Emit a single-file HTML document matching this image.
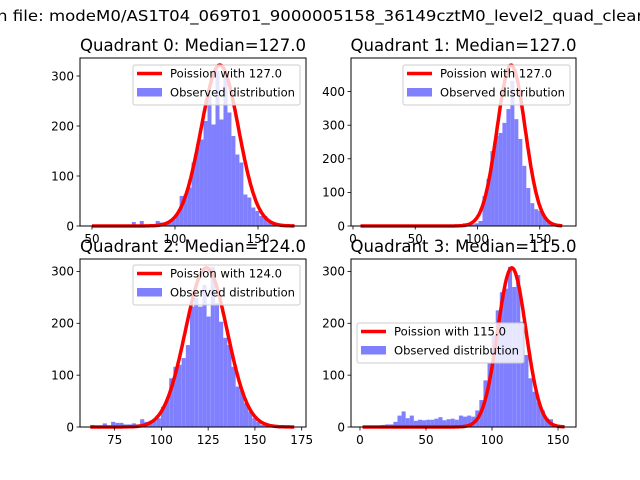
<!DOCTYPE html>
<html><head><meta charset="utf-8"><style>
html,body{margin:0;padding:0;background:#fff;}
svg{display:block;font-family:"DejaVu Sans","Liberation Sans",sans-serif;}
</style></head><body>
<svg id="fig" width="640" height="480" viewBox="0 0 640 480">
<text x="-3" y="21" font-size="15.5" textLength="650" lengthAdjust="spacingAndGlyphs">n file: modeM0/AS1T04_069T01_9000005158_36149cztM0_level2_quad_clean</text>
</svg>
<script>
// Quadrant 0
const q0Start = 50, q0Width = 2.4;
const q0Counts = [0,0,0,0,0,0,0,0,0,0,8,3,10,3,3,4,10,7,5,8,13,25,60,63,77,127,157,173,210,263,203,310,213,310,227,180,143,127,63,57,37,30,20,20,7,3,0,0,0,0];
const q0Lambda = 127, q0Peak = 322, q0CurveRange = [50,172];
const q0XTicks = [50,100,150], q0YTicks = [0,100,200,300];
// Quadrant 1
const q1Start = 8, q1Width = 3.2;
const q1Counts = [0,0,0,0,0,0,0,0,0,0,0,0,0,0,0,1,1,1,1,2,3,3,3,5,5,8,5,5,8,15,89,140,223,268,277,307,348,432,318,259,179,113,68,50,45,30,15,5,2,0];
const q1Lambda = 127, q1Peak = 479, q1CurveRange = [6,168];
const q1XTicks = [0,50,100,150], q1YTicks = [0,100,200,300,400];
// Quadrant 2
const q2Start = 62, q2Width = 2.22;
const q2Counts = [4,2,3,7,3,10,8,8,5,5,7,5,15,10,12,14,17,39,52,94,116,120,133,158,232,249,232,274,213,309,239,203,172,158,116,78,71,46,30,17,10,4,2,1,0,0,0,0,0,0];
const q2Lambda = 124, q2Peak = 307, q2CurveRange = [62,171];
const q2XTicks = [75,100,125,150,175], q2YTicks = [0,100,200,300];
// Quadrant 3
const q3Start = 0.5, q3Width = 3.1;
const q3Counts = [1,1,2,2,3,4,5,5,10,22,30,17,22,12,14,13,14,14,16,19,13,15,16,14,22,20,22,20,32,52,90,123,177,225,260,267,309,270,293,203,139,94,68,48,32,17,15,6,2,0];
const q3Lambda = 115, q3Peak = 307, q3CurveRange = [2,155];
const q3XTicks = [0,50,100,150], q3YTicks = [0,100,200,300];

const NS = "http://www.w3.org/2000/svg";
const fig = document.getElementById('fig');
function mk(tag, attrs, parent){const e=document.createElementNS(NS,tag);for(const k in attrs)e.setAttribute(k,attrs[k]);(parent||fig).appendChild(e);return e;}

function panel(p){
  const g = mk('g',{});
  
  
  const X = v => p.x0 + (v - p.xmin)/(p.xmax - p.xmin)*(p.x1 - p.x0);
  const Y = v => p.y1 - (v - 0)/(p.ymax)*(p.y1 - p.y0);
  p.counts.forEach((c,i)=>{
    if(c<=0) return;
    const a = p.start + i*p.width, b = a + p.width;
    const r = mk('rect',{x:X(a),y:Y(c),width:X(b)-X(a),height:Y(0)-Y(c),fill:'#8080ff'},g);
    
    
  });
  let d='';
  for(let v=p.cr[0]; v<=p.cr[1]; v+=0.5){
    const y = p.peak*Math.exp(-(v-p.lambda)*(v-p.lambda)/(2*p.lambda));
    d += (d?'L':'M') + X(v).toFixed(1)+','+Y(y).toFixed(1);
  }
  const path = mk('path',{d:d,fill:'none',stroke:'#ff0000','stroke-width':3.5,'stroke-linejoin':'round'},g);
  
  
  const fr = mk('rect',{x:p.x0,y:p.y0,width:p.x1-p.x0,height:p.y1-p.y0,fill:'none',stroke:'#000','stroke-width':1},g);
  
  
  p.xt.forEach(t=>{
    const x = X(t);
    mk('line',{x1:x,x2:x,y1:p.y1,y2:p.y1+3.5,stroke:'#000','stroke-width':0.8},g);
    const tx = mk('text',{x:x,y:p.y1+17,'font-size':12,'text-anchor':'middle'},g);
    tx.textContent = t;
    
    
  });
  p.yt.forEach(t=>{
    const y = Y(t);
    mk('line',{x1:p.x0-3.5,x2:p.x0,y1:y,y2:y,stroke:'#000','stroke-width':0.8},g);
    const tx = mk('text',{x:p.x0-6,y:y+4.3,'font-size':12,'text-anchor':'end'},g);
    tx.textContent = t;
    
    
  });
  const ti = mk('text',{x:(p.x0+p.x1)/2+p.tdx,y:p.y0-7,'font-size':16.5,'text-anchor':'middle',textLength:226,lengthAdjust:'spacingAndGlyphs'},g);
  ti.textContent = 'Quadrant '+p.id+': Median='+p.lambda.toFixed(1);
  
  
  const lg = mk('g',{},g);
  
  
  const lx = p.lx, ly = p.ly;
  mk('rect',{x:lx,y:ly,width:167,height:40,rx:2,fill:'#fff','fill-opacity':0.8,stroke:'#ccc','stroke-width':1},lg);
  mk('line',{x1:lx+4,x2:lx+29,y1:ly+8.5,y2:ly+8.5,stroke:'#ff0000','stroke-width':3.5},lg);
  mk('rect',{x:lx+4,y:ly+23,width:25,height:8.5,fill:'#8080ff'},lg);
  const t1 = mk('text',{x:lx+37,y:ly+12.5,'font-size':11.5,textLength:112,lengthAdjust:'spacingAndGlyphs'},lg);
  t1.textContent = 'Poission with '+p.lambda.toFixed(1);
  
  
  const t2 = mk('text',{x:lx+37,y:ly+31.5,'font-size':11.5,textLength:125,lengthAdjust:'spacingAndGlyphs'},lg);
  t2.textContent = 'Observed distribution';
  
  
}

panel({id:0,x0:80,x1:306,y0:58,y1:226,xmin:42.8,xmax:178.9,ymax:336,start:q0Start,width:q0Width,counts:q0Counts,lambda:q0Lambda,peak:q0Peak,cr:q0CurveRange,xt:q0XTicks,yt:q0YTicks,lx:133,ly:65,tdx:0});
panel({id:1,x0:351,x1:576,y0:58,y1:226,xmin:-1.6,xmax:179.1,ymax:500,start:q1Start,width:q1Width,counts:q1Counts,lambda:q1Lambda,peak:q1Peak,cr:q1CurveRange,xt:q1XTicks,yt:q1YTicks,lx:403,ly:65,tdx:0});
panel({id:2,x0:80,x1:306,y0:259,y1:427,xmin:56.5,xmax:177.3,ymax:324,start:q2Start,width:q2Width,counts:q2Counts,lambda:q2Lambda,peak:q2Peak,cr:q2CurveRange,xt:q2XTicks,yt:q2YTicks,lx:133,ly:265,tdx:0});
panel({id:3,x0:351,x1:576,y0:259,y1:427,xmin:-6.8,xmax:163.6,ymax:324,start:q3Start,width:q3Width,counts:q3Counts,lambda:q3Lambda,peak:q3Peak,cr:q3CurveRange,xt:q3XTicks,yt:q3YTicks,lx:357,ly:323,tdx:0});
</script>
</body></html>
